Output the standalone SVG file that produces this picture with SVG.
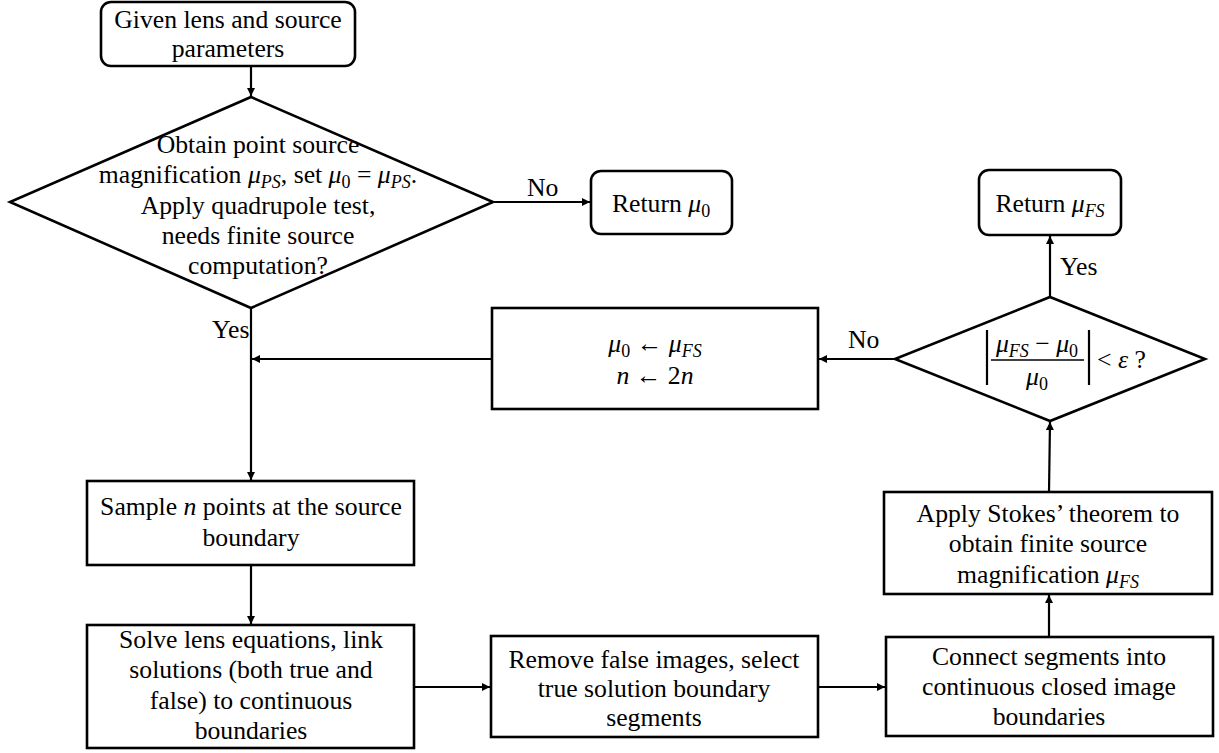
<svg xmlns="http://www.w3.org/2000/svg" width="1219" height="753" viewBox="0 0 1219 753">
<defs>
<style>
text{font-family:'Liberation Serif','DejaVu Serif','Times New Roman',serif;font-size:25.7px;fill:#000;text-anchor:middle}
.lbl{text-anchor:start}
.m{font-style:italic}
.s{font-size:18px}
.box{fill:#fff;stroke:#000;stroke-width:2.6}
.con{fill:none;stroke:#000;stroke-width:2.2}
</style>
<marker id="ah" viewBox="0 0 10 10" refX="10" refY="5" markerWidth="9" markerHeight="8" markerUnits="userSpaceOnUse" orient="auto">
<path d="M0,0 L10,5 L0,10 z" fill="#000"/>
</marker>
</defs>
<rect width="1219" height="753" fill="#fff"/>

<g id="connectors" font-family="Liberation Serif, serif">
<line class="con" x1="251" y1="66" x2="251" y2="96" marker-end="url(#ah)"/>
<line class="con" x1="493" y1="202" x2="590" y2="202" marker-end="url(#ah)"/>
<text class="lbl" x="527" y="196">No</text>
<line class="con" x1="1050" y1="297" x2="1050" y2="236" marker-end="url(#ah)"/>
<text class="lbl" x="1060" y="275">Yes</text>
<line class="con" x1="895" y1="359" x2="819" y2="359" marker-end="url(#ah)"/>
<text class="lbl" x="848" y="348">No</text>
<line class="con" x1="492" y1="359" x2="252" y2="359" marker-end="url(#ah)"/>
<line class="con" x1="251" y1="308" x2="251" y2="480" marker-end="url(#ah)"/>
<text class="lbl" x="212" y="338">Yes</text>
<line class="con" x1="251" y1="565" x2="251" y2="624" marker-end="url(#ah)"/>
<line class="con" x1="414" y1="687" x2="490" y2="687" marker-end="url(#ah)"/>
<line class="con" x1="818" y1="687" x2="885" y2="687" marker-end="url(#ah)"/>
<line class="con" x1="1049" y1="637" x2="1049" y2="595" marker-end="url(#ah)"/>
<line class="con" x1="1049" y1="492" x2="1050" y2="422" marker-end="url(#ah)"/>
</g>

<g id="start">
<rect class="box" x="101" y="2" width="254" height="64" rx="10"/>
<text x="228" y="28">Given lens and source</text>
<text x="228" y="57">parameters</text>
</g>

<g id="decision1">
<polygon class="box" points="251,97 493,202 251,308 10,202"/>
<text x="258" y="153">Obtain point source</text>
<text x="258" y="183">magnification <tspan class="m">μ</tspan><tspan class="m s" dy="5">PS</tspan><tspan dy="-5">, set </tspan><tspan class="m">μ</tspan><tspan class="s" dy="5">0</tspan><tspan dy="-5"> = </tspan><tspan class="m">μ</tspan><tspan class="m s" dy="5">PS</tspan><tspan dy="-5">.</tspan></text>
<text x="258" y="214">Apply quadrupole test,</text>
<text x="258" y="244">needs finite source</text>
<text x="258" y="274">computation?</text>
</g>

<g id="return0">
<rect class="box" x="591" y="171" width="141" height="63" rx="10"/>
<text x="661" y="212">Return <tspan class="m">μ</tspan><tspan class="s" dy="5">0</tspan></text>
</g>

<g id="returnFS">
<rect class="box" x="979" y="170" width="142" height="65" rx="10"/>
<text x="1050" y="212">Return <tspan class="m">μ</tspan><tspan class="m s" dy="5">FS</tspan></text>
</g>

<g id="decision2">
<polygon class="box" points="1050,297 1205,359 1050,421 895,359"/>
<line class="con" x1="987" y1="330" x2="987" y2="385"/>
<line class="con" x1="1089" y1="330" x2="1089" y2="385"/>
<line stroke="#000" stroke-width="1.6" x1="991" y1="360" x2="1084" y2="360"/>
<text x="1037" y="352"><tspan class="m">μ</tspan><tspan class="m s" dy="5">FS</tspan><tspan dy="-5"> − </tspan><tspan class="m">μ</tspan><tspan class="s" dy="5">0</tspan></text>
<text x="1037" y="385"><tspan class="m">μ</tspan><tspan class="s" dy="5">0</tspan></text>
<text class="lbl" x="1097" y="368">&lt; <tspan class="m">ε</tspan> ?</text>
</g>

<g id="update">
<rect class="box" x="492" y="308" width="326" height="101"/>
<text x="655" y="352"><tspan class="m">μ</tspan><tspan class="s" dy="5">0</tspan><tspan dy="-5"> ← </tspan><tspan class="m">μ</tspan><tspan class="m s" dy="5">FS</tspan></text>
<text x="655" y="384"><tspan class="m">n</tspan> ← 2<tspan class="m">n</tspan></text>
</g>

<g id="sample">
<rect class="box" x="87" y="481" width="327" height="84"/>
<text x="251" y="515">Sample <tspan class="m">n</tspan> points at the source</text>
<text x="251" y="546">boundary</text>
</g>

<g id="solve">
<rect class="box" x="87" y="625" width="327" height="123"/>
<text x="251" y="648">Solve lens equations, link</text>
<text x="251" y="678">solutions (both true and</text>
<text x="251" y="709">false) to continuous</text>
<text x="251" y="739">boundaries</text>
</g>

<g id="remove">
<rect class="box" x="491" y="636" width="327" height="101"/>
<text x="654" y="668">Remove false images, select</text>
<text x="654" y="697">true solution boundary</text>
<text x="654" y="726">segments</text>
</g>

<g id="connect">
<rect class="box" x="886" y="637" width="327" height="99"/>
<text x="1049" y="665">Connect segments into</text>
<text x="1049" y="695">continuous closed image</text>
<text x="1049" y="725">boundaries</text>
</g>

<g id="stokes">
<rect class="box" x="884" y="492" width="328" height="102"/>
<text x="1048" y="522">Apply Stokes’ theorem to</text>
<text x="1048" y="552">obtain finite source</text>
<text x="1048" y="583">magnification <tspan class="m">μ</tspan><tspan class="m s" dy="5">FS</tspan></text>
</g>
</svg>
